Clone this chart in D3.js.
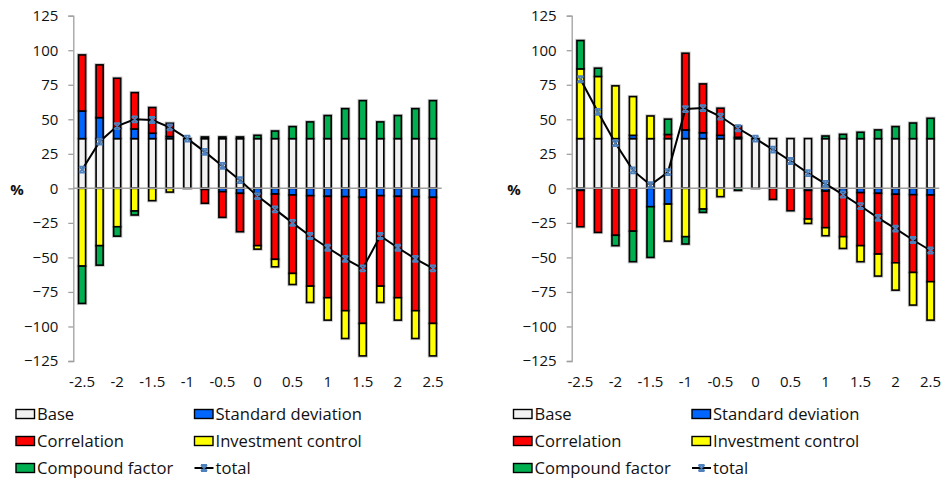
<!DOCTYPE html>
<html>
<head>
<meta charset="utf-8">
<script src="https://cdn.jsdelivr.net/npm/d3@7"></script>
<style>
  html, body { margin: 0; padding: 0; background: #fff; }
  svg { display: block; font-family: "Open Sans", "Noto Sans", sans-serif; }
</style>
</head>
<body>
<svg id="chart" width="944" height="481"></svg>
<script>
// Shock sizes on the horizontal axis
const categories = [-2.5, -2.25, -2, -1.75, -1.5, -1.25, -1, -0.75, -0.5, -0.25, 0,
                    0.25, 0.5, 0.75, 1, 1.25, 1.5, 1.75, 2, 2.25, 2.5];
const xTickLabels = ["-2.5", "-2", "-1.5", "-1", "-0.5", "0", "0.5", "1", "1.5", "2", "2.5"];
const yTicks = [125, 100, 75, 50, 25, 0, -25, -50, -75, -100, -125];

const seriesNames = ["Base", "Standard deviation", "Correlation", "Investment control", "Compound factor"];
const seriesColors = ["#f2f2f2", "#0066ff", "#ff0000", "#ffff00", "#00b050"];

// Left panel
const leftBase = [36, 36, 36, 36, 36, 36, 36, 36, 36, 36, 36, 36, 36, 36, 36, 36, 36, 36, 36, 36, 36];
const leftStd = [20, 15.2, 7.5, 7, 3.9, 1.5, 0, -0.8, -2.4, -3.6, -3.6, -4.1, -4.8, -5.3, -5.8, -6, -6.5, -5.3, -5.8, -6, -6.5];
const leftCorr = [40.6, 38.2, 36.2, 26.3, 18.6, 9.6, 0, -10, -18.6, -27.8, -37.9, -47.3, -56.8, -65.5, -73.4, -82.6, -91.3, -65.5, -73.4, -82.6, -91.3];
const leftInvest = [-56.3, -41.5, -27.8, -16.4, -8.9, -2.7, 0, 0, 0, 0, -2.5, -5.4, -8, -11.8, -16.2, -20.1, -23.5, -11.8, -16.2, -20.1, -23.5];
const leftCompound = [-27, -14.1, -6.8, -2.9, 0, 0, 0, 1.2, 1.2, 1.2, 2.4, 5.5, 8.7, 12.1, 16.7, 21.7, 27.5, 12.1, 16.7, 21.7, 27.5];
const leftTotal = [13.5, 33.8, 45.1, 50, 49.5, 44.2, 36, 26.4, 16.2, 5.9, -5.6, -15.2, -25, -34.5, -43, -51, -58, -34.5, -43, -51, -58];

// Right panel
const rightBase = [36, 36, 36, 36, 36, 36, 36, 36, 36, 36, 36, 36, 36, 36, 36, 36, 36, 36, 36, 36, 36];
const rightStd = [-1.5, 0, 0, 2.4, -13.3, -11.4, 6.3, 4.3, 2.4, 1, 0, 0, 0, -1.5, -2, -3.1, -3.1, -3.6, -4.3, -4.6, -4.8];
const rightCorr = [-26.3, -31.9, -34, -31, 0, 3, 55.5, 35.3, 19.6, 8, 0, -8, -16.2, -20.7, -26.5, -31.9, -38.4, -44, -49.6, -56.3, -62.8];
const rightInvest = [50.5, 45, 38.2, 28, 16.4, -26.8, -35, -15, -6, 0, 0, 0, 0, -3.2, -5.8, -8.5, -11.6, -15.9, -19.8, -23.6, -27.8];
const rightCompound = [20.5, 6, -7.5, -22.1, -36.7, 11.1, -5.3, -2.4, 0, -1.5, 0, 0, 0, 0, 1.9, 3.1, 4.6, 6.3, 8.7, 11.3, 14.7];
const rightTotal = [79, 55.3, 32.7, 13, 2.4, 11.8, 57.4, 58.1, 52, 43.5, 36, 28, 19.8, 11, 3.3, -4.6, -12.8, -21.4, -29.2, -37.4, -45];

const svg = d3.select("#chart");

function drawPanel(opts) {
  const { left, right, top, bottom, series, total, pctX, legendX, legendX2 } = opts;
  const g = svg.append("g");

  const rows = categories.map((c, i) => {
    const r = { cat: c };
    seriesNames.forEach((n, k) => { r[n] = series[k][i]; });
    return r;
  });

  const x = d3.scaleBand().domain(categories).range([left, right]).paddingInner(0.6).paddingOuter(0.3);
  const y = d3.scaleLinear().domain([-125, 125]).range([bottom, top]);

  const stacked = d3.stack().keys(seriesNames).offset(d3.stackOffsetDiverging)(rows);

  // Soft grey rim behind the bar outlines
  stacked.forEach(layer => {
    const segs = layer.filter(d => Math.abs(d[1] - d[0]) > 1e-9);
    g.append("g").selectAll("rect").data(segs).join("rect")
      .attr("x", d => x(d.data.cat))
      .attr("y", d => y(Math.max(d[0], d[1])))
      .attr("width", x.bandwidth())
      .attr("height", d => Math.abs(y(d[0]) - y(d[1])))
      .attr("fill", "none")
      .attr("stroke", "#c8c8c8")
      .attr("stroke-width", 3.4);
  });
  // Stacked bar segments
  stacked.forEach((layer, k) => {
    const segs = layer.filter(d => Math.abs(d[1] - d[0]) > 1e-9);
    g.append("g").selectAll("rect").data(segs).join("rect")
      .attr("x", d => x(d.data.cat))
      .attr("y", d => y(Math.max(d[0], d[1])))
      .attr("width", x.bandwidth())
      .attr("height", d => Math.abs(y(d[0]) - y(d[1])))
      .attr("fill", seriesColors[k])
      .attr("stroke", "#000")
      .attr("stroke-width", 1.6);
  });

  // Value axis
  const yAxis = d3.axisLeft(y).tickValues(yTicks).tickSize(5).tickPadding(10).tickFormat(d3.format("d"));
  const ya = g.append("g").attr("transform", `translate(${left},0)`).call(yAxis);
  ya.select(".domain").attr("stroke", "#a0a0a0").attr("stroke-width", 1.3);
  ya.selectAll(".tick line").attr("stroke", "#a0a0a0").attr("stroke-width", 1.3);
  ya.selectAll(".tick text").attr("font-size", 15).attr("fill", "#111")
    .attr("font-family", "'Open Sans', sans-serif");

  // Zero line
  g.append("line")
    .attr("x1", left).attr("x2", right)
    .attr("y1", y(0)).attr("y2", y(0))
    .attr("stroke", "#a0a0a0").attr("stroke-width", 1.5);

  // Category labels every 0.5
  const labelCats = categories.filter((c, i) => i % 2 === 0);
  g.selectAll("text.xl").data(labelCats).join("text")
    .attr("x", d => x(d) + x.bandwidth() / 2)
    .attr("y", bottom + 26)
    .attr("text-anchor", "middle")
    .attr("font-size", 15)
    .attr("fill", "#111")
    .text((d, i) => xTickLabels[i]);

  g.append("text").attr("x", pctX).attr("y", y(0) + 7)
    .attr("text-anchor", "middle").attr("font-size", 15).attr("font-weight", "bold").attr("fill", "#111")
    .text("%");

  // Total line with markers
  const cx = c => x(c) + x.bandwidth() / 2;
  const line = d3.line().x((d, i) => cx(categories[i])).y(d => y(d));
  g.append("path").datum(total)
    .attr("d", line).attr("fill", "none").attr("stroke", "#000").attr("stroke-width", 2);
  const marker = "M-3,-3L3,3M3,-3L-3,3M-3,-3L3,-3M-3,3L3,3";
  g.selectAll("path.mk").data(total).join("path")
    .attr("transform", (d, i) => `translate(${cx(categories[i])},${y(d)})`)
    .attr("d", marker).attr("fill", "none")
    .attr("stroke", "#4f81bd").attr("stroke-width", 1.8);

  // Legend
  const legendItems = [
    { name: "Base", k: 0, col: 0, row: 0 },
    { name: "Standard deviation", k: 1, col: 1, row: 0 },
    { name: "Correlation", k: 2, col: 0, row: 1 },
    { name: "Investment control", k: 3, col: 1, row: 1 },
    { name: "Compound factor", k: 4, col: 0, row: 2 },
    { name: "total", k: -1, col: 1, row: 2 }
  ];
  const rowY = [414, 441, 468];
  legendItems.forEach(it => {
    const lx = it.col === 0 ? legendX : legendX2;
    const ly = rowY[it.row];
    if (it.k >= 0) {
      g.append("rect").attr("x", lx).attr("y", ly - 4.5).attr("width", 18.5).attr("height", 9)
        .attr("fill", seriesColors[it.k]).attr("stroke", "#000").attr("stroke-width", 1.4);
    } else {
      g.append("line").attr("x1", lx).attr("x2", lx + 19).attr("y1", ly).attr("y2", ly)
        .attr("stroke", "#000").attr("stroke-width", 2);
      g.append("path").attr("transform", `translate(${lx + 9.5},${ly})`)
        .attr("d", marker).attr("fill", "none").attr("stroke", "#4f81bd").attr("stroke-width", 1.8);
    }
    g.append("text").attr("x", lx + 21).attr("y", ly + 6)
      .attr("font-size", 16.6).attr("fill", "#111").text(it.name);
  });
}

drawPanel({
  left: 73.3, right: 441.7, top: 15.7, bottom: 361,
  series: [leftBase, leftStd, leftCorr, leftInvest, leftCompound],
  total: leftTotal, pctX: 17, legendX: 16, legendX2: 194.5
});

drawPanel({
  left: 571.7, right: 939.3, top: 15.7, bottom: 361,
  series: [rightBase, rightStd, rightCorr, rightInvest, rightCompound],
  total: rightTotal, pctX: 514, legendX: 513.5, legendX2: 692
});
</script>
</body>
</html>
